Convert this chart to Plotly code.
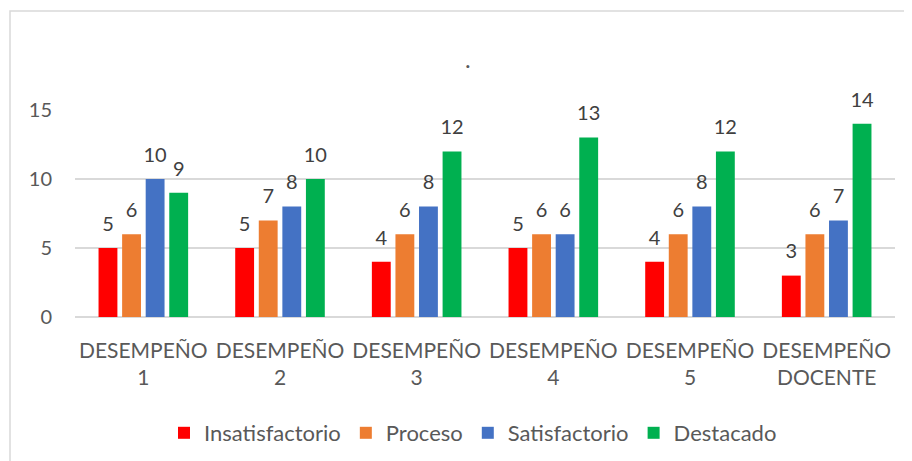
import plotly.graph_objects as go

categories = ["DESEMPEÑO<br>1", "DESEMPEÑO<br>2", "DESEMPEÑO<br>3", "DESEMPEÑO<br>4", "DESEMPEÑO<br>5", "DESEMPEÑO<br>DOCENTE"]
insatisfactorio = [5, 5, 4, 5, 4, 3]
proceso = [6, 7, 6, 6, 6, 6]
satisfactorio = [10, 8, 8, 6, 8, 7]
destacado = [9, 10, 12, 13, 12, 14]
y_ticks = [0, 5, 10, 15]

series = [
    ("Insatisfactorio", insatisfactorio, "#FF0000"),
    ("Proceso", proceso, "#ED7D31"),
    ("Satisfactorio", satisfactorio, "#4472C4"),
    ("Destacado", destacado, "#00B050"),
]

FONT = "Lato, Calibri, Carlito, sans-serif"

fig = go.Figure()
for name, vals, color in series:
    fig.add_trace(go.Bar(
        x=categories, y=vals, name=name,
        marker=dict(color=color, line=dict(width=0)),
        hoverinfo="x+y+name",
    ))
# data labels, aligned with the grouped bars
for name, vals, color in series:
    fig.add_trace(go.Scatter(
        x=categories, y=vals, name=name, mode="markers+text",
        marker=dict(size=18, color="rgba(0,0,0,0)"),
        text=[str(v) for v in vals], textposition="top center",
        textfont=dict(family=FONT, size=20, color="#404040"),
        cliponaxis=False, showlegend=False, hoverinfo="skip",
    ))

# page has an 8px body margin: figure origin is at (8, 8) of the window
OFF = 8
W, H = 912 - OFF, 461 - OFF
ml, mr, mt, mb = 75 - OFF, 17, 110 - OFF, 144
pw, ph = W - ml - mr, H - mt - mb

def px_x(x):
    return (x - OFF - ml) / pw

def px_y(y):
    return 1 - (y - OFF - mt) / ph

fig.update_layout(
    width=W, height=H,
    margin=dict(l=ml, r=mr, t=mt, b=mb, autoexpand=False),
    paper_bgcolor="white", plot_bgcolor="white",
    barmode="group", bargap=0.31, bargroupgap=0.2,
    scattermode="group", scattergap=0.31,
    font=dict(family=FONT, size=20, color="#595959"),
    showlegend=True,
    legend=dict(orientation="h", xref="container", yref="container",
                x=(473 - OFF) / W, xanchor="center", y=1 - (433 - OFF) / H, yanchor="middle",
                font=dict(family=FONT, size=22, color="#595959"), itemwidth=30, tracegroupgap=0),
    xaxis=dict(showgrid=False, showline=False, ticks="", ticklabelstandoff=19, automargin=False,
               tickfont=dict(family=FONT, size=21, color="#595959")),
    yaxis=dict(range=[0, 15], tickvals=y_ticks, showgrid=True, gridcolor="#D9D9D9", gridwidth=1.5,
               zeroline=True, zerolinecolor="#D9D9D9", zerolinewidth=1.5, automargin=False,
               showline=False, ticks="", ticklabelstandoff=22,
               tickfont=dict(family=FONT, size=20, color="#595959")),
    shapes=[dict(type="rect", xref="paper", yref="paper",
                 x0=px_x(10), x1=px_x(940),
                 y0=px_y(490), y1=px_y(11),
                 line=dict(color="#D9D9D9", width=1.5), fillcolor="rgba(0,0,0,0)", layer="below")],
    annotations=[dict(text=".", xref="paper", yref="paper", x=px_x(468), y=px_y(58),
                      showarrow=False, font=dict(family=FONT, size=24, color="#595959"),
                      xanchor="center", yanchor="middle")],
)

fig.write_html("out.html")
